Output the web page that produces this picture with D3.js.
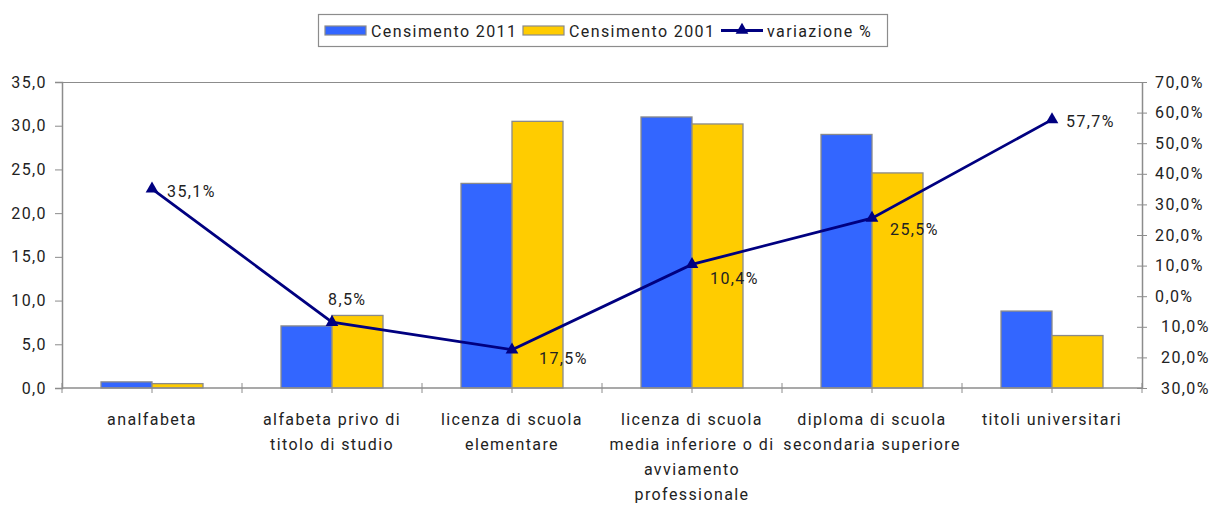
<!DOCTYPE html>
<html>
<head>
<meta charset="utf-8">
<script src="https://cdn.jsdelivr.net/npm/d3@7"></script>
<style>
	body { margin: 0; background: #fff; }
	svg text { font-family: Roboto, "Liberation Sans", sans-serif; fill: #222; letter-spacing: 1.4px; }
</style>
</head>
<body>
<div id="chart"></div>
<script>
// data
var categories = [
	'analfabeta',
	'alfabeta privo di\ntitolo di studio',
	'licenza di scuola\nelementare',
	'licenza di scuola\nmedia inferiore o di\navviamento\nprofessionale',
	'diploma di scuola\nsecondaria superiore',
	'titoli universitari'
];
var series = ['Censimento 2011', 'Censimento 2001'];
var cens2011 = [0.7, 7.1, 23.4, 31.0, 29.0, 8.8];
var cens2001 = [0.5, 8.3, 30.5, 30.2, 24.6, 6.0];
var variazione = [35.1, -8.5, -17.5, 10.4, 25.5, 57.7];
var leftTicks = [0, 5, 10, 15, 20, 25, 30, 35];
var rightTicks = [-30, -20, -10, 0, 10, 20, 30, 40, 50, 60, 70];

var fmt = {
	width: 1215, height: 505,
	left: 62, right: 1142, top: 82, bottom: 388,
	clr_axis: '#8c8c8c',
	clr_bar: ['#3366ff', '#ffcc00'],
	clr_line: '#000080'
};
// label offsets (dx, dy of baseline) for the line's data labels
var labelOffset = [[15, 8], [-4, -17], [27, 14], [18, 20], [18, 17], [14, 7]];

var comma = function(v, d) { return Math.abs(v).toFixed(d).replace('.', ','); };

var svg = d3.select('#chart').append('svg')
	.attr('width', fmt.width)
	.attr('height', fmt.height);

var x0 = d3.scaleBand().domain(d3.range(categories.length)).range([fmt.left, fmt.right]).padding(0);
var x1 = d3.scaleBand().domain(series).range([0, x0.bandwidth()]).paddingInner(0).paddingOuter(0.765);
var yL = d3.scaleLinear().domain([0, 35]).range([fmt.bottom, fmt.top]);
var yR = d3.scaleLinear().domain([-30, 70]).range([fmt.bottom, fmt.top]);

// plot top border
svg.append('line')
	.attr('x1', fmt.left).attr('x2', fmt.right)
	.attr('y1', fmt.top + 0.5).attr('y2', fmt.top + 0.5)
	.attr('stroke', fmt.clr_axis).attr('stroke-width', 1.2);

// bars
var vals = [cens2011, cens2001];
series.forEach(function(s, si) {
	svg.append('g').selectAll('rect')
		.data(vals[si])
		.join('rect')
		.attr('x', function(d, i) { return x0(i) + x1(s); })
		.attr('y', function(d) { return yL(d); })
		.attr('width', x1.bandwidth())
		.attr('height', function(d) { return yL(0) - yL(d); })
		.attr('fill', fmt.clr_bar[si])
		.attr('stroke', '#8a8a8a')
		.attr('stroke-width', 1.3);
});

// left axis
var axL = svg.append('g')
	.attr('transform', `translate(${fmt.left},0)`)
	.call(d3.axisLeft(yL).tickValues(leftTicks).tickSize(7).tickPadding(8)
		.tickFormat(function(d) { return comma(d, 1); }));
axL.select('.domain').attr('stroke', fmt.clr_axis).attr('stroke-width', 1.5);
axL.selectAll('.tick line').attr('stroke', fmt.clr_axis);
axL.selectAll('.tick text').attr('font-size', 16).attr('fill', '#222').attr('font-family', null);

// right axis (cross ticks)
var axR = svg.append('g')
	.attr('transform', `translate(${fmt.right},0)`)
	.call(d3.axisRight(yR).tickValues(rightTicks).tickSizeInner(5).tickSizeOuter(0).tickPadding(10)
		.tickFormat(function(d) { return comma(d, 1) + '%'; }));
axR.select('.domain').attr('stroke', fmt.clr_axis).attr('stroke-width', 1.5);
axR.selectAll('.tick line').attr('x1', -5).attr('stroke', fmt.clr_axis);
axR.selectAll('.tick text')
	.attr('font-size', 16).attr('fill', '#222').attr('font-family', null)
	.attr('x', function(d) { return d < 0 ? 19 : 13; });

// category axis
var axB = svg.append('g').attr('transform', `translate(0,${fmt.bottom})`);
axB.append('line')
	.attr('x1', fmt.left).attr('x2', fmt.right)
	.attr('stroke', fmt.clr_axis).attr('stroke-width', 1.5);
axB.selectAll('line.bound')
	.data(d3.range(categories.length + 1))
	.join('line')
	.attr('class', 'bound')
	.attr('x1', function(i) { return fmt.left + i * x0.step(); })
	.attr('x2', function(i) { return fmt.left + i * x0.step(); })
	.attr('y1', -5).attr('y2', 5)
	.attr('stroke', fmt.clr_axis);
axB.selectAll('line.mid')
	.data(d3.range(categories.length))
	.join('line')
	.attr('class', 'mid')
	.attr('x1', function(i) { return x0(i) + x0.bandwidth() / 2; })
	.attr('x2', function(i) { return x0(i) + x0.bandwidth() / 2; })
	.attr('y1', 0).attr('y2', 5)
	.attr('stroke', fmt.clr_axis);
axB.selectAll('text.cat')
	.data(categories)
	.join('text')
	.attr('class', 'cat')
	.attr('text-anchor', 'middle')
	.attr('font-size', 16)
	.each(function(d, i) {
		var t = d3.select(this);
		d.split('\n').forEach(function(line, li) {
			t.append('tspan')
				.attr('x', x0(i) + x0.bandwidth() / 2)
				.attr('y', 37 + li * 25)
				.text(line);
		});
	});

// variation line
var cx = function(d, i) { return x0(i) + x0.bandwidth() / 2; };
var line = d3.line().x(cx).y(function(d) { return yR(d); });
svg.append('path')
	.datum(variazione)
	.attr('d', line)
	.attr('fill', 'none')
	.attr('stroke', fmt.clr_line)
	.attr('stroke-width', 2.8);
var tri = d3.symbol(d3.symbolTriangle).size(70);
svg.append('g').selectAll('path')
	.data(variazione)
	.join('path')
	.attr('d', tri)
	.attr('transform', function(d, i) { return `translate(${cx(d, i)},${yR(d)})`; })
	.attr('fill', fmt.clr_line);
svg.append('g').selectAll('text')
	.data(variazione)
	.join('text')
	.attr('x', function(d, i) { return cx(d, i) + labelOffset[i][0]; })
	.attr('y', function(d, i) { return yR(d) + labelOffset[i][1]; })
	.attr('font-size', 16)
	.text(function(d) { return comma(d, 1) + '%'; });

// legend
var lg = svg.append('g').attr('transform', 'translate(318,14)');
lg.append('rect')
	.attr('x', 0.5).attr('y', 0.5).attr('width', 569).attr('height', 32)
	.attr('fill', '#fff').attr('stroke', '#8c8c8c').attr('stroke-width', 1.2);
var legendItems = [
	{ name: series[0], type: 'bar', color: fmt.clr_bar[0], x: 7 },
	{ name: series[1], type: 'bar', color: fmt.clr_bar[1], x: 205 },
	{ name: 'variazione %', type: 'line', color: fmt.clr_line, x: 403 }
];
legendItems.forEach(function(it) {
	if (it.type === 'bar') {
		lg.append('rect')
			.attr('x', it.x).attr('y', 12).attr('width', 41).attr('height', 9)
			.attr('fill', it.color).attr('stroke', '#8a8a8a').attr('stroke-width', 1.2);
	} else {
		lg.append('line')
			.attr('x1', it.x).attr('x2', it.x + 42).attr('y1', 16.5).attr('y2', 16.5)
			.attr('stroke', it.color).attr('stroke-width', 2.8);
		lg.append('path')
			.attr('d', tri)
			.attr('transform', `translate(${it.x + 21},16)`)
			.attr('fill', it.color);
	}
	lg.append('text')
		.attr('x', it.x + 46).attr('y', 22.5)
		.attr('font-size', 16)
		.text(it.name);
});
</script>
</body>
</html>
